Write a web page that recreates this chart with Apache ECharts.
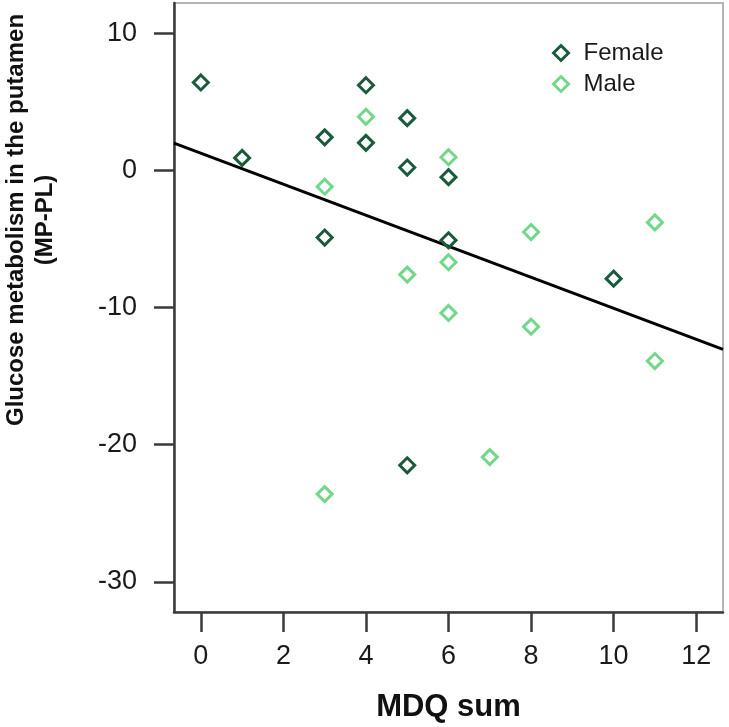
<!DOCTYPE html>
<html>
<head>
<meta charset="utf-8">
<script src="https://cdn.jsdelivr.net/npm/echarts@6/dist/echarts.min.js"></script>
<style>
html,body{margin:0;padding:0;background:#fff;}
#chart{width:729px;height:727px;}
</style>
</head>
<body>
<div id="chart"></div>
<script>
// ---- data ----
const femaleX = [0, 1, 3, 3, 4, 4, 5, 5, 5, 6, 6, 10];
const femaleY = [6.4, 0.9, 2.4, -4.9, 6.2, 2.0, 3.8, 0.2, -21.5, -0.5, -5.1, -7.9];
const maleX = [3, 3, 4, 5, 6, 6, 6, 7, 8, 8, 11, 11];
const maleY = [-1.2, -23.6, 3.9, -7.6, 0.95, -6.7, -10.4, -20.9, -4.5, -11.4, -3.8, -13.9];
const fitX = [-0.65, 12.65];
const fitY = [1.98, -13.05];
const xTicks = [0, 2, 4, 6, 8, 10, 12];
const yTicks = [-30, -20, -10, 0, 10];
const seriesNames = ['Female', 'Male'];
const xTitle = 'MDQ sum';
const yTitle = 'Glucose metabolism in the putamen\n(MP-PL)';

const pairs = (xs, ys) => xs.map((x, i) => [x, ys[i]]);
const FONT = '"Liberation Sans", Arial, Helvetica, sans-serif';
const female = '#1b5a3a';
const male = '#72d889';

const chart = echarts.init(document.getElementById('chart'), null, {renderer: 'canvas'});
chart.setOption({
  animation: false,
  backgroundColor: '#ffffff',
  grid: {
    left: 174, right: 6, top: 3, bottom: 115,
    show: true, borderColor: '#b4b4b4', borderWidth: 2,
    backgroundColor: 'transparent',
    outerBoundsMode: 'none'
  },
  legend: {
    data: seriesNames,
    orient: 'vertical',
    left: 547, top: 36,
    itemWidth: 15, itemHeight: 15,
    itemGap: 7,
    itemStyle: {borderWidth: 3},
    textStyle: {fontFamily: FONT, fontSize: 24, color: '#1a1a1a', lineHeight: 23, padding: [0, 0, 0, 10]}
  },
  xAxis: {
    type: 'value',
    min: fitX[0], max: fitX[1],
    name: xTitle, nameLocation: 'middle', nameGap: 80,
    nameTextStyle: {fontFamily: FONT, fontSize: 31, fontWeight: 'bold', color: '#111'},
    axisLine: {show: true, onZero: false, lineStyle: {color: '#3a3a3a', width: 2.5}},
    axisTick: {show: true, length: 20, lineStyle: {color: '#3a3a3a', width: 2.5}, customValues: xTicks},
    axisLabel: {fontFamily: FONT, fontSize: 27, color: '#1a1a1a', margin: 31, customValues: xTicks},
    splitLine: {show: false}
  },
  yAxis: {
    type: 'value',
    min: -32.19, max: 12.19,
    axisLine: {show: true, onZero: false, lineStyle: {color: '#3a3a3a', width: 2.5}},
    axisTick: {show: true, length: 20, lineStyle: {color: '#3a3a3a', width: 2.5}, customValues: yTicks},
    axisLabel: {fontFamily: FONT, fontSize: 27, color: '#1a1a1a', margin: 37, customValues: yTicks},
    splitLine: {show: false}
  },
  graphic: [{
    type: 'text',
    x: 31, y: 220,
    rotation: Math.PI / 2,
    style: {
      text: yTitle,
      fontFamily: FONT, fontSize: 24, fontWeight: 'bold', fill: '#111',
      align: 'center', verticalAlign: 'middle', lineHeight: 29
    }
  }],
  series: [
    {
      type: 'line',
      data: pairs(fitX, fitY),
      showSymbol: false,
      lineStyle: {color: '#000', width: 3},
      z: 3,
      silent: true
    },
    {
      name: seriesNames[0],
      type: 'scatter',
      data: pairs(femaleX, femaleY),
      symbol: 'diamond', symbolSize: 15,
      itemStyle: {color: 'rgba(255,255,255,0)', borderColor: female, borderWidth: 3, opacity: 1},
      z: 4
    },
    {
      name: seriesNames[1],
      type: 'scatter',
      data: pairs(maleX, maleY),
      symbol: 'diamond', symbolSize: 15,
      itemStyle: {color: 'rgba(255,255,255,0)', borderColor: male, borderWidth: 3, opacity: 1},
      z: 4
    }
  ]
});
</script>
</body>
</html>
